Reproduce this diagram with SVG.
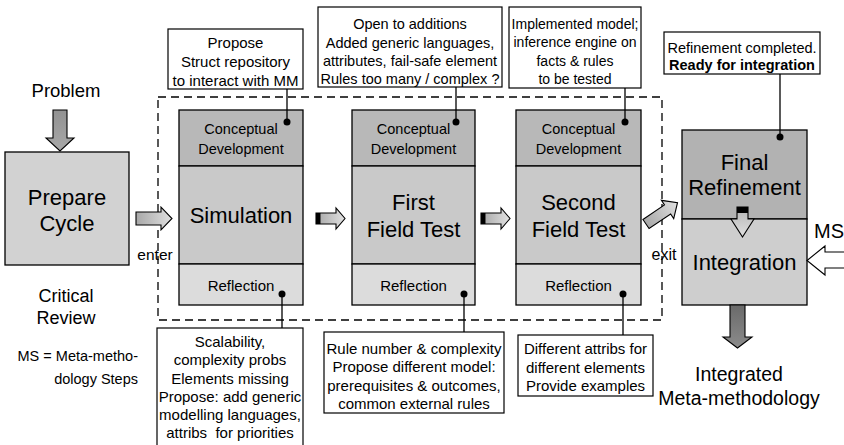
<svg xmlns="http://www.w3.org/2000/svg" width="844" height="445" viewBox="0 0 844 445">
<defs>
<style>
text{fill:#000}
.c{text-anchor:middle}
.s15{font-size:15px}
.s145{font-size:14.5px}
.cd{font-size:14.5px}
.big{font-size:22px}
.box{stroke:#000;stroke-width:1.3}
.call{fill:#fff;stroke:#000;stroke-width:1.2}
.lead{stroke:#000;stroke-width:1.3;fill:none}
.arr{stroke:#000;stroke-width:1.1}
</style>
<linearGradient id="gH" x1="0" y1="0" x2="1" y2="0">
<stop offset="0" stop-color="#a8a8a8"/><stop offset="1" stop-color="#e0e0e0"/>
</linearGradient>
<linearGradient id="gV" x1="0" y1="0" x2="0" y2="1">
<stop offset="0" stop-color="#929292"/><stop offset="1" stop-color="#a8a8a8"/>
</linearGradient>
<linearGradient id="gD" x1="0" y1="0" x2="0" y2="1">
<stop offset="0" stop-color="#6a6a6a"/><stop offset="1" stop-color="#8c8c8c"/>
</linearGradient>
<linearGradient id="gI" x1="0" y1="0" x2="0" y2="1">
<stop offset="0" stop-color="#000"/><stop offset="0.2" stop-color="#000"/><stop offset="0.21" stop-color="#bdbdbd"/><stop offset="1" stop-color="#e0e0e0"/>
</linearGradient>
<linearGradient id="gB" x1="0" y1="0" x2="1" y2="0">
<stop offset="0" stop-color="#000"/><stop offset="0.15" stop-color="#000"/><stop offset="0.16" stop-color="#b0b0b0"/><stop offset="1" stop-color="#e2e2e2"/>
</linearGradient>
</defs>
<rect width="844" height="445" fill="#fff"/>

<g font-family="Liberation Sans, Arial, Helvetica, sans-serif">
<g id="labels">
<text x="66" y="97" class="c" font-size="18.5">Problem</text>
<text x="66" y="302" class="c" font-size="18">Critical</text>
<text x="66" y="324" class="c" font-size="18">Review</text>
<text x="138" y="361" text-anchor="end" font-size="14.5">MS = Meta-metho-</text>
<text x="138" y="384" text-anchor="end" font-size="14.5">dology Steps</text>
<text x="155" y="260" class="c" font-size="15.5">enter</text>
<text x="664" y="260" class="c" font-size="16">exit</text>
<text x="814" y="238" font-size="20">MS</text>
<text x="739" y="381" class="c" font-size="19.5">Integrated</text>
<text x="739" y="405" class="c" font-size="19.5">Meta-methodology</text>
</g>

<g id="cycle-frame">
<rect x="158" y="97" width="504" height="223" fill="none" stroke="#000" stroke-width="1.3" stroke-dasharray="8 5"/>
</g>

<g id="prepare">
<rect x="5" y="152" width="124" height="113" fill="#d2d2d2" class="box"/>
<text x="67" y="205" class="c big">Prepare</text>
<text x="67" y="231" class="c big">Cycle</text>
</g>

<g id="simulation">
<rect x="179" y="110" width="124" height="56" fill="#b8b8b8" class="box"/>
<rect x="179" y="166" width="124" height="98" fill="#c9c9c9" class="box"/>
<rect x="179" y="264" width="124" height="41" fill="#dcdcdc" class="box"/>
<text x="241" y="134" class="c cd">Conceptual</text>
<text x="241" y="154" class="c cd">Development</text>
<text x="241" y="223" class="c big">Simulation</text>
<text x="241" y="291" class="c s15">Reflection</text>
</g>

<g id="first-field-test">
<rect x="352" y="110" width="123" height="56" fill="#b8b8b8" class="box"/>
<rect x="352" y="166" width="123" height="98" fill="#c9c9c9" class="box"/>
<rect x="352" y="264" width="123" height="41" fill="#dcdcdc" class="box"/>
<text x="413.5" y="134" class="c cd">Conceptual</text>
<text x="413.5" y="154" class="c cd">Development</text>
<text x="413.5" y="210" class="c big">First</text>
<text x="413.5" y="237" class="c big">Field Test</text>
<text x="413.5" y="291" class="c s15">Reflection</text>
</g>

<g id="second-field-test">
<rect x="516" y="110" width="125" height="56" fill="#b8b8b8" class="box"/>
<rect x="516" y="166" width="125" height="98" fill="#c9c9c9" class="box"/>
<rect x="516" y="264" width="125" height="41" fill="#dcdcdc" class="box"/>
<text x="578.5" y="134" class="c cd">Conceptual</text>
<text x="578.5" y="154" class="c cd">Development</text>
<text x="578.5" y="210" class="c big">Second</text>
<text x="578.5" y="237" class="c big">Field Test</text>
<text x="578.5" y="291" class="c s15">Reflection</text>
</g>

<g id="final">
<rect x="682" y="130" width="125" height="89" fill="#b2b2b2" class="box"/>
<rect x="682" y="219" width="125" height="86" fill="#cecece" class="box"/>
<text x="744.5" y="170" class="c big">Final</text>
<text x="744.5" y="195" class="c big">Refinement</text>
<text x="744.5" y="270" class="c big">Integration</text>
</g>

<g id="callouts">
<g id="note-simulation-cd">
<rect x="168" y="29" width="135" height="60" class="call"/>
<text x="235.5" y="48" class="c s15">Propose</text>
<text x="235.5" y="67" class="c s15">Struct repository</text>
<text x="235.5" y="86" class="c s15">to interact with MM</text>
</g>
<g id="note-first-cd">
<rect x="318" y="7" width="184" height="80" class="call"/>
<text x="410" y="29" class="c s145">Open to additions</text>
<text x="410" y="48" class="c s145">Added generic languages,</text>
<text x="410" y="66" class="c s145">attributes, fail-safe element</text>
<text x="410" y="84" class="c s145">Rules too many / complex ?</text>
</g>
<g id="note-second-cd">
<rect x="509" y="7" width="132" height="81" class="call"/>
<text x="575" y="29" class="c" font-size="14">Implemented model;</text>
<text x="575" y="47" class="c" font-size="14">inference engine on</text>
<text x="575" y="66" class="c" font-size="14">facts &amp; rules</text>
<text x="575" y="84" class="c" font-size="14">to be tested</text>
</g>
<g id="note-final">
<rect x="664" y="32" width="156" height="42" class="call"/>
<text x="742" y="53" class="c" font-size="14.5">Refinement completed.</text>
<text x="742" y="70" class="c" font-size="14.5" font-weight="bold">Ready for integration</text>
</g>
<g id="note-simulation-refl">
<rect x="157" y="328" width="146" height="120" class="call"/>
<text x="230" y="347" class="c s15">Scalability,</text>
<text x="230" y="365" class="c s15">complexity probs</text>
<text x="230" y="384" class="c s15">Elements missing</text>
<text x="230" y="402" class="c s15">Propose: add generic</text>
<text x="230" y="420" class="c s15">modelling languages,</text>
<text x="230" y="438" class="c s15" xml:space="preserve">attribs  for priorities</text>
</g>
<g id="note-first-refl">
<rect x="324" y="332" width="180" height="81" class="call"/>
<text x="414" y="354" class="c s15">Rule number &amp; complexity</text>
<text x="414" y="372" class="c s15">Propose different model:</text>
<text x="414" y="391" class="c s15">prerequisites &amp; outcomes,</text>
<text x="414" y="409" class="c s15">common external rules</text>
</g>
<g id="note-second-refl">
<rect x="518" y="335" width="135" height="61" class="call"/>
<text x="585.5" y="354" class="c s15">Different attribs for</text>
<text x="585.5" y="373" class="c s15">different elements</text>
<text x="585.5" y="391" class="c s15">Provide examples</text>
</g>
</g>
</g>

<g id="connectors">
<line x1="287" y1="89" x2="287" y2="122" class="lead"/>
<circle cx="287" cy="122" r="3.5"/>
<line x1="456" y1="87" x2="456" y2="122" class="lead"/>
<circle cx="456" cy="122" r="3.5"/>
<line x1="625" y1="88" x2="625" y2="122" class="lead"/>
<circle cx="625" cy="122" r="3.5"/>
<line x1="780" y1="74" x2="780" y2="137" class="lead"/>
<circle cx="780" cy="137" r="3.5"/>
<line x1="282" y1="294" x2="282" y2="328" class="lead"/>
<circle cx="282" cy="294" r="3.5"/>
<line x1="464" y1="294" x2="464" y2="332" class="lead"/>
<circle cx="464" cy="294" r="3.5"/>
<line x1="623" y1="294" x2="623" y2="335" class="lead"/>
<circle cx="623" cy="294" r="3.5"/>

<path id="arrow-problem" d="M53,110 H67 V138 H74 L60,151 L46,138 H53 Z" fill="url(#gV)" class="arr"/>
<path id="arrow-enter" d="M136,212 H161 V207 L172,218.5 L161,230 V225 H136 Z" fill="url(#gH)" class="arr"/>
<path id="arrow-sim-first" d="M316,213 H336 V208 L345,218.5 L336,229 V224 H316 Z" fill="url(#gB)" class="arr"/>
<path id="arrow-first-second" d="M481,213 H501 V208 L510,218.5 L501,229 V224 H481 Z" fill="url(#gB)" class="arr"/>
<path id="arrow-exit" d="M0,-5.5 H26 V-11 L38,0 L26,11 V5.5 H0 Z" transform="translate(646,224) rotate(-34)" fill="url(#gH)" class="arr"/>
<path id="arrow-inner" d="M737,207 H748 V219 H754 L742.5,237 L731,219 H737 Z" fill="url(#gI)" class="arr"/>
<path id="arrow-ms" d="M850,252 H825 V246 L807,260.5 L825,275 V268 H850" fill="#fff" class="arr"/>
<path id="arrow-out" d="M730,305 H745 V337 H752 L737.5,348 L723,337 H730 Z" fill="url(#gD)" class="arr"/>
</g>
</svg>
